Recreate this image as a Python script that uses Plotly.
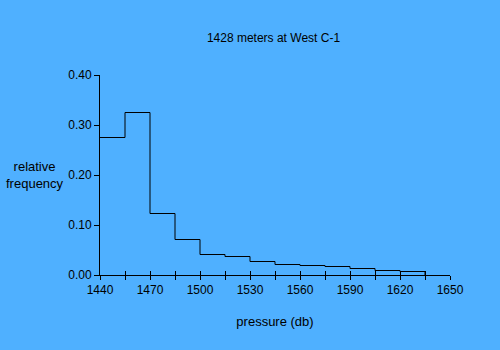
import plotly.graph_objects as go

bin_edges = [1440, 1455, 1470, 1485, 1500, 1515, 1530, 1545, 1560, 1575, 1590, 1605, 1620, 1635]
rel_freq = [0.275, 0.325, 0.123, 0.071, 0.041, 0.037, 0.027, 0.021, 0.019, 0.017, 0.013, 0.009, 0.007]
x_tickvals = [1440, 1470, 1500, 1530, 1560, 1590, 1620, 1650]
y_tickvals = [0.0, 0.1, 0.2, 0.3, 0.4]
y_ticktext = ["0.00", "0.10", "0.20", "0.30", "0.40"]

bg = "#4FB0FF"
font = dict(family="Liberation Sans, Arial, sans-serif", size=12, color="black")
font13 = dict(family="Liberation Sans, Arial, sans-serif", size=13, color="black")

fig = go.Figure()
fig.add_trace(go.Scatter(
    x=bin_edges, y=rel_freq + [0.0],
    mode="lines", line=dict(color="black", width=1, shape="hv"),
    hoverinfo="skip", showlegend=False,
))
# invisible trace on the second x axis to draw upward ticks
fig.add_trace(go.Scatter(x=[1440, 1650], y=[0, 0], xaxis="x2", mode="lines",
                         line=dict(width=0), hoverinfo="skip", showlegend=False))

fig.update_layout(
    width=500, height=350,
    margin=dict(l=100, r=50, t=75, b=75),
    paper_bgcolor=bg, plot_bgcolor=bg,
    font=font,
    title=dict(text="1428 meters at West C-1", x=0.547, xanchor="center",
               y=1 - 38 / 350, yanchor="middle", font=font),
    xaxis=dict(range=[1440, 1650], tickmode="array", tickvals=x_tickvals,
               ticks="outside", ticklen=4, tickcolor="black", tickwidth=1,
               minor=dict(dtick=15, tick0=1440, ticks="outside", ticklen=4,
                          tickcolor="black", tickwidth=1),
               showline=True, linecolor="black", linewidth=1,
               showgrid=False, zeroline=False, tickfont=font,
               title=dict(text="pressure (db)", font=font13, standoff=20)),
    xaxis2=dict(range=[1440, 1650], overlaying="x", anchor="y", side="bottom",
                tickmode="array", tickvals=[1440 + 15 * i for i in range(15)],
                ticks="inside", ticklen=4, tickcolor="black", tickwidth=1,
                showticklabels=False, showgrid=False, zeroline=False, showline=False),
    yaxis=dict(range=[0, 0.4], tickmode="array", tickvals=y_tickvals, ticktext=y_ticktext,
               ticks="outside", ticklen=5, tickcolor="black", tickwidth=1,
               showline=True, linecolor="black", linewidth=1,
               showgrid=False, zeroline=False, tickfont=font),
    annotations=[dict(text="relative<br>frequency", xref="paper", yref="paper",
                      x=-0.187, y=0.5, xanchor="center", yanchor="middle",
                      showarrow=False, font=font13, align="center")],
)

fig.write_html("out.html")
